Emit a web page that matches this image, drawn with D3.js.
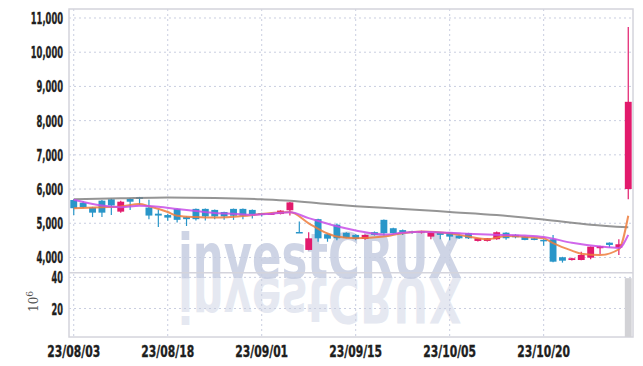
<!DOCTYPE html>
<html lang="en">
<head>
    <meta charset="UTF-8">
    <title>Candlestick Chart</title>
    <script src="https://d3js.org/d3.v7.min.js"></script>
    <style>
        body {
            margin: 0;
            background-color: #fff;
        }
        .tick-label {
            font-family: "DejaVu Sans Condensed", "DejaVu Sans", sans-serif;
            font-stretch: condensed;
            font-weight: bold;
            font-size: 16px;
            fill: #1e1e1e;
            stroke: #1e1e1e;
            stroke-width: 0.35px;
        }
        .grid {
            stroke: #c9cee0;
            stroke-width: 1px;
            stroke-dasharray: 2, 3;
        }
        .frame {
            stroke: #d4d4dc;
            stroke-width: 1.5px;
            fill: none;
        }
    </style>
</head>
<body>
    <svg id="chart" width="643" height="366"></svg>
    <script>
        // trading days (yy/mm/dd)
        const dates = [
            "23/08/03", "23/08/04", "23/08/07", "23/08/08", "23/08/09", "23/08/10", "23/08/11", "23/08/14", "23/08/16", "23/08/17",
            "23/08/18", "23/08/21", "23/08/22", "23/08/23", "23/08/24", "23/08/25", "23/08/28", "23/08/29", "23/08/30", "23/08/31",
            "23/09/01", "23/09/04", "23/09/05", "23/09/06", "23/09/07", "23/09/08", "23/09/11", "23/09/12", "23/09/13", "23/09/14",
            "23/09/15", "23/09/18", "23/09/19", "23/09/20", "23/09/21", "23/09/22", "23/09/25", "23/09/26", "23/09/27", "23/10/04",
            "23/10/05", "23/10/06", "23/10/10", "23/10/11", "23/10/12", "23/10/13", "23/10/16", "23/10/17", "23/10/18", "23/10/19",
            "23/10/20", "23/10/23", "23/10/24", "23/10/25", "23/10/26", "23/10/27", "23/10/30", "23/10/31", "23/11/01", "23/11/02"
        ];
        const open = [
            5680, 5600, 5460, 5660, 5700, 5340, 5710, 5760, 5460, 5280,
            5240, 5420, 5180, 5420, 5420, 5390, 5330, 5420, 5420, 5390,
            5300, 5260, 5270, 5380, 4745, 4220, 5120, 4680, 4960, 4720,
            4660, 4540, 4740, 5100, 4855, 4800, 4760, 4730, 4610, 4725,
            4725, 4640, 4710, 4483, 4483, 4533, 4725, 4660, 4610, 4562,
            4515, 4533, 4006, 3926, 3926, 3994, 4270, 4433, 4287, 6000
        ];
        const high = [
            5700, 5640, 5480, 5680, 5720, 5660, 5730, 5770, 5690, 5400,
            5280, 5430, 5200, 5430, 5430, 5400, 5340, 5430, 5430, 5400,
            5310, 5300, 5380, 5620, 5050, 4740, 5130, 4700, 4990, 4740,
            4680, 4670, 4760, 5110, 4870, 4820, 4780, 4780, 4740, 4740,
            4740, 4660, 4720, 4570, 4570, 4760, 4740, 4680, 4620, 4580,
            4530, 4660, 4020, 3990, 4170, 4320, 4340, 4440, 4530, 10740
        ];
        const low = [
            5240, 5440, 5180, 5180, 5240, 5310, 5390, 5540, 5120, 4890,
            5070, 5020, 4920, 5080, 5080, 5120, 5100, 5100, 5120, 5140,
            5200, 5250, 5260, 5230, 4730, 4210, 4460, 4460, 4500, 4560,
            4500, 4520, 4640, 4640, 4700, 4660, 4690, 4700, 4530, 4530,
            4500, 4540, 4540, 4470, 4470, 4520, 4520, 4560, 4500, 4500,
            4340, 3860, 3850, 3910, 3920, 3950, 4100, 4290, 4073, 5700
        ];
        const close = [
            5440, 5470, 5310, 5310, 5520, 5630, 5630, 5730, 5225, 5225,
            5165, 5100, 5120, 5120, 5200, 5200, 5200, 5220, 5220, 5270,
            5250, 5290, 5370, 5610, 4735, 4560, 4560, 4550, 4560, 4570,
            4540, 4660, 4660, 4710, 4710, 4730, 4720, 4770, 4725, 4660,
            4610, 4560, 4560, 4562, 4562, 4738, 4562, 4592, 4512, 4512,
            4505, 3877, 3906, 3977, 4073, 4316, 4336, 4366, 4386, 8550
        ];
        // volume in millions
        const volume = [
            0.6, 0.4, 0.5, 0.5, 0.6, 0.5, 0.4, 0.3, 0.6, 0.5,
            0.4, 0.4, 0.3, 0.4, 0.3, 0.3, 0.3, 0.3, 0.3, 0.3,
            0.3, 0.3, 0.4, 0.6, 1.2, 1.0, 0.8, 0.5, 0.6, 0.4,
            0.3, 0.3, 0.3, 0.6, 0.4, 0.3, 0.3, 0.3, 0.3, 0.3,
            0.3, 0.3, 0.3, 0.3, 0.3, 0.4, 0.3, 0.3, 0.3, 0.3,
            0.3, 1.1, 0.5, 0.3, 0.4, 0.6, 0.4, 0.3, 0.5, 39.5
        ];

        // moving averages: [index, value]
        const ma5 = [
            [0, 5440], [3, 5470], [5, 5490], [7, 5560], [8, 5500], [10, 5330], [11, 5220], [13, 5180],
            [15, 5165], [18, 5210], [20, 5270], [23, 5330], [25, 5000], [27, 4700], [28, 4610], [30, 4560],
            [33, 4610], [35, 4710], [37, 4760], [40, 4710], [42, 4610], [44, 4530], [46, 4630], [48, 4600],
            [50, 4560], [51, 4420], [53, 4200], [54, 4110], [56, 4070], [58, 4240], [59, 5220]
        ];
        const ma20 = [
            [0, 5690], [3, 5520], [5, 5470], [7, 5510], [9, 5480], [11, 5420], [13, 5360], [15, 5300],
            [17, 5280], [19, 5250], [21, 5280], [23, 5320], [25, 5150], [28, 4910], [30, 4790], [33, 4670],
            [35, 4720], [37, 4750], [40, 4720], [44, 4670], [48, 4640], [50, 4600], [53, 4430], [56, 4320],
            [58, 4280], [59, 4660]
        ];
        const ma60 = [
            [0, 5700], [5, 5730], [10, 5755], [15, 5740], [20, 5700], [23, 5660], [27, 5560], [30, 5500],
            [35, 5420], [40, 5330], [45, 5240], [50, 5110], [55, 4960], [59, 4880]
        ];

        const priceTicks = [4000, 5000, 6000, 7000, 8000, 9000, 10000, 11000];
        const volumeTicks = [20, 40];
        const dateTicks = ["23/08/03", "23/08/18", "23/09/01", "23/09/15", "23/10/05", "23/10/20"];

        const upColor = "#e21a6c";
        const downColor = "#2996c9";

        const plotLeft = 69, plotRight = 633, plotTop = 9, plotSplit = 272.7, plotBottom = 337;

        const svg = d3.select("#chart");

        const x = d3.scaleBand()
            .domain(d3.range(dates.length))
            .range([plotLeft, plotRight])
            .paddingInner(0.27)
            .paddingOuter(0.14);
        const cx = i => x(i) + x.bandwidth() / 2;

        const y = d3.scaleLinear().domain([3555, 11263]).range([plotSplit, plotTop]);
        const yv = d3.scaleLinear().domain([1.7, 43]).range([plotBottom, plotSplit]).clamp(true);

        // narrow label widths, like the condensed face of the original
        const labelWidth = s => s.length * 5.7 - (s.includes(",") ? 2 : 0);

        // grid
        svg.append("g").selectAll("line")
            .data(priceTicks)
            .join("line")
            .attr("class", "grid")
            .attr("x1", plotLeft).attr("x2", plotRight)
            .attr("y1", d => y(d)).attr("y2", d => y(d));
        svg.append("g").selectAll("line")
            .data(volumeTicks)
            .join("line")
            .attr("class", "grid")
            .attr("x1", plotLeft).attr("x2", plotRight)
            .attr("y1", d => yv(d)).attr("y2", d => yv(d));
        svg.append("g").selectAll("line")
            .data(dateTicks)
            .join("line")
            .attr("class", "grid")
            .attr("x1", d => cx(dates.indexOf(d))).attr("x2", d => cx(dates.indexOf(d)))
            .attr("y1", plotTop).attr("y2", plotBottom);

        // watermark with its reflection
        const wm = svg.append("g")
            .attr("font-family", "DejaVu Sans")
            .attr("font-weight", "bold")
            .attr("font-size", 62)
            .attr("fill", "#c6cde1");
        wm.append("text")
            .attr("x", 178).attr("y", 278)
            .attr("textLength", 284)
            .attr("lengthAdjust", "spacingAndGlyphs")
            .attr("opacity", 0.85)
            .text("investCRUX");
        wm.append("g")
            .attr("transform", "translate(0,556) scale(1,-1)")
            .append("text")
            .attr("x", 178).attr("y", 278)
            .attr("textLength", 284)
            .attr("lengthAdjust", "spacingAndGlyphs")
            .attr("opacity", 0.45)
            .text("investCRUX");

        // frame
        svg.append("rect").attr("class", "frame")
            .attr("x", plotLeft).attr("y", plotTop)
            .attr("width", plotRight - plotLeft).attr("height", plotBottom - plotTop);
        svg.append("line").attr("class", "frame")
            .attr("x1", plotLeft).attr("x2", plotRight)
            .attr("y1", plotSplit).attr("y2", plotSplit);

        // volume bars
        svg.append("g").selectAll("rect")
            .data(volume)
            .join("rect")
            .attr("x", (d, i) => x(i))
            .attr("width", x.bandwidth())
            .attr("y", d => yv(d))
            .attr("height", d => plotBottom - yv(d))
            .attr("fill", "#d2d2d6");

        // candles
        const candles = svg.append("g").selectAll("g")
            .data(d3.range(dates.length))
            .join("g")
            .attr("fill", i => close[i] >= open[i] ? upColor : downColor)
            .attr("stroke", i => close[i] >= open[i] ? upColor : downColor);
        candles.append("line")
            .attr("x1", cx).attr("x2", cx)
            .attr("y1", i => y(high[i]))
            .attr("y2", i => y(low[i]))
            .attr("stroke-width", 1.2);
        candles.append("rect")
            .attr("x", i => x(i))
            .attr("width", x.bandwidth())
            .attr("y", i => y(Math.max(open[i], close[i])))
            .attr("height", i => Math.max(1.5, Math.abs(y(open[i]) - y(close[i]))))
            .attr("stroke", "none");

        // moving averages
        const line = d3.line()
            .x(d => cx(d[0]))
            .y(d => y(d[1]))
            .curve(d3.curveMonotoneX);
        svg.append("path").datum(ma60)
            .attr("d", line).attr("fill", "none")
            .attr("stroke", "#7a7a7a").attr("stroke-width", 2).attr("stroke-opacity", 0.8);
        svg.append("path").datum(ma5)
            .attr("d", line).attr("fill", "none")
            .attr("stroke", "#ef7d3c").attr("stroke-width", 2).attr("stroke-opacity", 0.85);
        svg.append("path").datum(ma20)
            .attr("d", line).attr("fill", "none")
            .attr("stroke", "#c84de8").attr("stroke-width", 2).attr("stroke-opacity", 0.85);

        // axis labels
        svg.append("g").selectAll("text")
            .data(priceTicks.map(d3.format(",")))
            .join("text")
            .attr("class", "tick-label")
            .attr("x", 63)
            .attr("y", (d, i) => y(priceTicks[i]) + 6)
            .attr("text-anchor", "end")
            .attr("textLength", labelWidth)
            .attr("lengthAdjust", "spacingAndGlyphs")
            .text(d => d);
        svg.append("g").selectAll("text")
            .data(volumeTicks.map(String))
            .join("text")
            .attr("class", "tick-label")
            .attr("x", 63)
            .attr("y", (d, i) => yv(volumeTicks[i]) + 6)
            .attr("text-anchor", "end")
            .attr("textLength", labelWidth)
            .attr("lengthAdjust", "spacingAndGlyphs")
            .text(d => d);
        svg.append("g").selectAll("text")
            .data(dateTicks)
            .join("text")
            .attr("class", "tick-label")
            .attr("x", d => cx(dates.indexOf(d)))
            .attr("y", 357)
            .attr("text-anchor", "middle")
            .attr("textLength", d => d.length * 6.6)
            .attr("lengthAdjust", "spacingAndGlyphs")
            .text(d => d);

        // volume unit
        const unit = svg.append("text")
            .attr("transform", "translate(38,312) rotate(-90)")
            .attr("font-family", "DejaVu Serif")
            .attr("font-size", 12)
            .attr("fill", "#555");
        unit.append("tspan").text("10");
        unit.append("tspan").attr("dy", -5).attr("font-size", 9).text("6");
    </script>
</body>
</html>
